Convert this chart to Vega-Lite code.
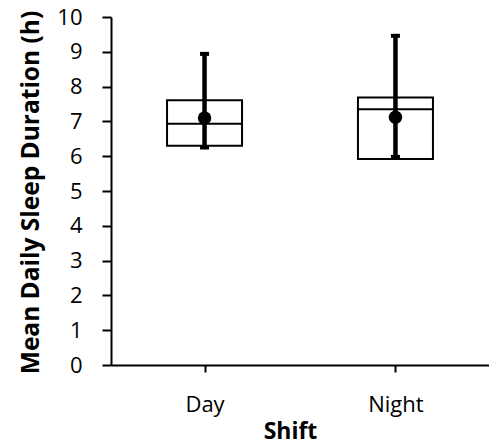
{
  "$schema": "https://vega.github.io/schema/vega-lite/v6.json",
  "width": 378,
  "height": 348,
  "autosize": {"type": "none"},
  "padding": {"left": 111, "top": 17, "right": 0, "bottom": 80},
  "background": "white",
  "config": {
    "view": {"stroke": null},
    "font": "Open Sans",
    "axis": {"grid": false, "domainColor": "black", "tickColor": "black", "labelColor": "black", "titleColor": "black"},
    "axisY": {
      "tickCount": 12,
      "labelOverlap": false,
      "labelFontSize": 22,
      "labelPadding": 20,
      "domainWidth": 2,
      "tickSize": 9,
      "tickWidth": 2,
      "titleFontSize": 24.5,
      "titleFontWeight": "bold",
      "titleAngle": 270,
      "titleAlign": "center",
      "titleBaseline": "alphabetic",
      "titleX": -73,
      "titleY": 175
    },
    "tick": {"opacity": 1}
  },
  "data": {
    "values": [
      {"shift": "Day", "q1": 6.30, "median": 6.93, "q3": 7.61, "mean": 7.10, "low": 6.25, "high": 8.94},
      {"shift": "Night", "q1": 5.92, "median": 7.35, "q3": 7.69, "mean": 7.12, "low": 5.98, "high": 9.46}
    ]
  },
  "encoding": {
    "x": {
      "field": "shift",
      "type": "nominal",
      "sort": ["Day", "Night"],
      "scale": {"type": "point", "padding": 0.49},
      "axis": {
        "title": "Shift",
        "labelAngle": 0,
        "labelFontSize": 22,
        "labelPadding": 22,
        "labelBaseline": "top",
        "domainWidth": 2,
        "tickSize": 7,
        "tickWidth": 2,
        "titleFontSize": 23,
        "titleFontWeight": "bold",
        "titleAlign": "center",
        "titleBaseline": "alphabetic",
        "titleX": 179,
        "titleY": 73
      }
    }
  },
  "layer": [
    {
      "mark": {"type": "bar", "size": 75, "fill": "white", "stroke": "black", "strokeWidth": 2},
      "encoding": {
        "y": {
          "field": "q1",
          "type": "quantitative",
          "title": "Mean Daily Sleep Duration (h)",
          "scale": {"domain": [0, 10], "nice": false, "zero": true},
          "axis": {"values": [0, 1, 2, 3, 4, 5, 6, 7, 8, 9, 10], "tickCount": 12, "labelOverlap": false}
        },
        "y2": {"field": "q3"}
      }
    },
    {
      "mark": {"type": "tick", "size": 76, "thickness": 2, "color": "black", "opacity": 1, "orient": "horizontal"},
      "encoding": {
        "y": {"field": "median", "type": "quantitative", "title": "Mean Daily Sleep Duration (h)"}
      }
    },
    {
      "mark": {"type": "rule", "strokeWidth": 4.5, "color": "black"},
      "encoding": {
        "y": {"field": "low", "type": "quantitative", "title": "Mean Daily Sleep Duration (h)"},
        "y2": {"field": "high"}
      }
    },
    {
      "mark": {"type": "tick", "size": 9, "thickness": 4, "color": "black", "opacity": 1, "orient": "horizontal"},
      "encoding": {
        "y": {"field": "high", "type": "quantitative", "title": "Mean Daily Sleep Duration (h)"}
      }
    },
    {
      "mark": {"type": "tick", "size": 9, "thickness": 4, "color": "black", "opacity": 1, "orient": "horizontal"},
      "encoding": {
        "y": {"field": "low", "type": "quantitative", "title": "Mean Daily Sleep Duration (h)"}
      }
    },
    {
      "mark": {"type": "point", "filled": true, "size": 180, "color": "black", "opacity": 1},
      "encoding": {
        "y": {"field": "mean", "type": "quantitative", "title": "Mean Daily Sleep Duration (h)"}
      }
    }
  ]
}
